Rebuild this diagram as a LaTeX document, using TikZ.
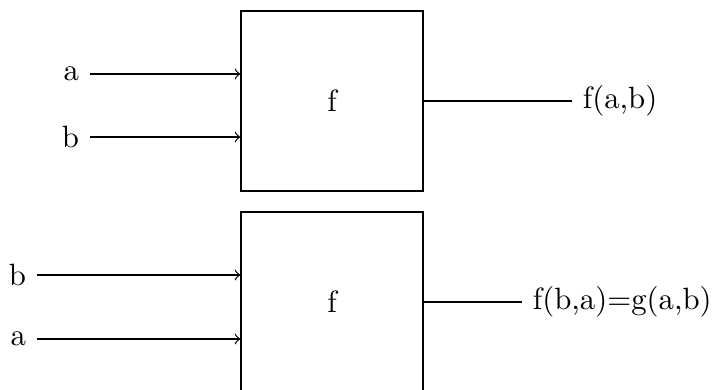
\documentclass[tikz,border=0pt]{standalone}
\usetikzlibrary{positioning}
\begin{document}
\begin{tikzpicture}[x=0.01141cm, y=-0.01141cm,
  every node/.style={font=\normalsize},
  fbox/.style={draw, minimum width=2.077cm, minimum height=2.054cm, inner sep=0pt}]
  \useasboundingbox (0,0) rectangle (714,390);
  % f applied to (a,b)
  \node[fbox] (f1) at (332,101) {f};
  \node[anchor=east] (a1) at (90,74) {a};
  \node[anchor=east] (b1) at (90,137) {b};
  \node[anchor=west] (o1) at (572,101) {f(a,b)};
  \draw[->] (a1) -- (a1 -| f1.west);
  \draw[->] (b1) -- (b1 -| f1.west);
  \draw (f1.east) -- (o1);
  % inputs swapped
  \node[fbox] (f2) at (332,302) {f};
  \node[anchor=east] (b2) at (37,275) {b};
  \node[anchor=east] (a2) at (37,339) {a};
  \node[anchor=west] (o2) at (522,302) {f(b,a)=g(a,b)};
  \draw[->] (b2) -- (b2 -| f2.west);
  \draw[->] (a2) -- (a2 -| f2.west);
  \draw (f2.east) -- (o2);
\end{tikzpicture}
\end{document}
